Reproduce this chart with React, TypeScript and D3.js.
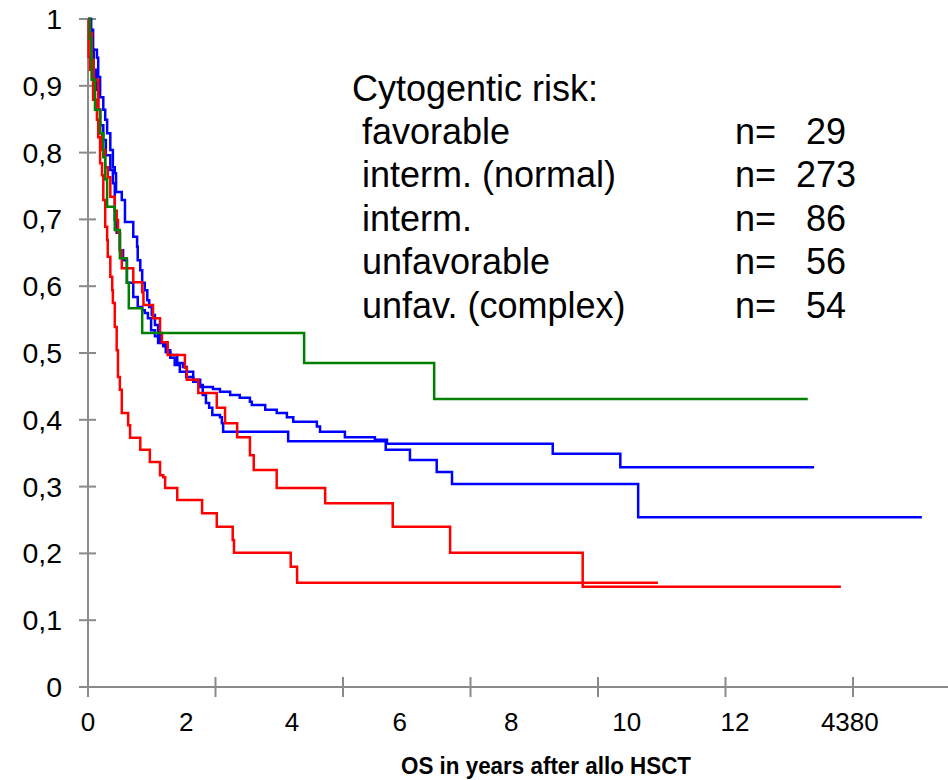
import React from "react";
import * as d3 from "d3";

// Kaplan–Meier overall survival by cytogenetic risk group.
// Each series: [years after allo HSCT, survival probability]; first point is the start,
// last point is the last follow-up (line ends there).
const favorable: [number, number][] = [
  [0, 1], [0.03, 0.97], [0.05, 0.94], [0.06, 0.909], [0.11, 0.864], [0.19, 0.829],
  [0.24, 0.793], [0.27, 0.76], [0.3, 0.719], [0.42, 0.684], [0.5, 0.642], [0.61, 0.605],
  [0.64, 0.567], [0.85, 0.53], [3.39, 0.485], [5.43, 0.431], [11.29, 0.431],
];

const intermNormal: [number, number][] = [
  [0, 1], [0.05, 0.984], [0.08, 0.954], [0.14, 0.942], [0.16, 0.913], [0.19, 0.883],
  [0.24, 0.864], [0.27, 0.849], [0.3, 0.829], [0.35, 0.804], [0.39, 0.778], [0.42, 0.769],
  [0.44, 0.741], [0.53, 0.729], [0.58, 0.696], [0.71, 0.674], [0.77, 0.659], [0.78, 0.639],
  [0.82, 0.624], [0.85, 0.605], [0.89, 0.594], [0.93, 0.579], [0.96, 0.569], [1.0, 0.557],
  [1.05, 0.542], [1.1, 0.527], [1.13, 0.516], [1.21, 0.512], [1.24, 0.504], [1.29, 0.497],
  [1.4, 0.485], [1.49, 0.479], [1.55, 0.472], [1.65, 0.46], [1.76, 0.449], [1.96, 0.446],
  [2.07, 0.442], [2.23, 0.437], [2.38, 0.433], [2.54, 0.427], [2.57, 0.422], [2.78, 0.415],
  [2.96, 0.41], [3.12, 0.404], [3.22, 0.397], [3.59, 0.39], [3.64, 0.382], [4.03, 0.374],
  [4.5, 0.37], [4.69, 0.364], [7.29, 0.349], [8.35, 0.329], [11.39, 0.329],
];

const interm: [number, number][] = [
  [0, 1], [0.03, 0.984], [0.06, 0.954], [0.09, 0.924], [0.13, 0.894], [0.16, 0.864],
  [0.19, 0.841], [0.24, 0.819], [0.28, 0.796], [0.35, 0.774], [0.39, 0.754], [0.42, 0.699],
  [0.45, 0.68], [0.5, 0.654], [0.55, 0.639], [0.61, 0.605], [0.71, 0.584], [0.78, 0.569],
  [0.85, 0.564], [0.89, 0.56], [0.94, 0.552], [0.99, 0.534], [1.05, 0.525], [1.1, 0.515],
  [1.18, 0.51], [1.22, 0.501], [1.29, 0.493], [1.36, 0.482], [1.44, 0.472], [1.54, 0.464],
  [1.65, 0.457], [1.73, 0.452], [1.8, 0.437], [1.85, 0.425], [1.9, 0.418], [1.95, 0.407],
  [2.07, 0.404], [2.1, 0.395], [2.12, 0.382], [3.14, 0.368], [4.67, 0.355], [5.05, 0.34],
  [5.47, 0.322], [5.71, 0.304], [8.63, 0.254], [13.08, 0.254],
];

const unfavorable: [number, number][] = [
  [0, 1], [0.03, 0.979], [0.06, 0.939], [0.09, 0.909], [0.16, 0.864], [0.19, 0.829],
  [0.22, 0.804], [0.27, 0.778], [0.31, 0.763], [0.35, 0.734], [0.42, 0.713], [0.45, 0.699],
  [0.47, 0.68], [0.5, 0.654], [0.53, 0.627], [0.71, 0.606], [0.85, 0.591], [0.87, 0.572],
  [0.94, 0.572], [1.02, 0.552], [1.13, 0.53], [1.16, 0.516], [1.25, 0.497], [1.52, 0.478],
  [1.55, 0.46], [1.73, 0.44], [2.02, 0.418], [2.15, 0.395], [2.34, 0.374], [2.54, 0.347],
  [2.6, 0.325], [2.96, 0.298], [3.72, 0.275], [4.78, 0.24], [5.68, 0.201], [7.76, 0.15],
  [11.81, 0.15],
];

const unfavComplex: [number, number][] = [
  [0, 1], [0.01, 0.943], [0.03, 0.924], [0.06, 0.909], [0.08, 0.879], [0.14, 0.849],
  [0.16, 0.823], [0.19, 0.784], [0.22, 0.766], [0.24, 0.729], [0.27, 0.689], [0.3, 0.669],
  [0.31, 0.644], [0.35, 0.614], [0.38, 0.594], [0.39, 0.575], [0.42, 0.539], [0.45, 0.504],
  [0.47, 0.464], [0.5, 0.445], [0.53, 0.41], [0.63, 0.392], [0.66, 0.373], [0.82, 0.355],
  [0.97, 0.337], [1.13, 0.317], [1.18, 0.314], [1.21, 0.298], [1.4, 0.28], [1.79, 0.26],
  [2.02, 0.24], [2.27, 0.22], [2.29, 0.201], [3.18, 0.18], [3.28, 0.156], [8.94, 0.156],
];

const groupNames = ["favorable", "interm. (normal)", "interm.", "unfavorable", "unfav. (complex)"];
const groupCounts = [29, 273, 86, 56, 54];

const xTicks = [0, 2, 4, 6, 8, 10, 12];
const xTickLabels = ["0", "2", "4", "6", "8", "10", "12", "4380"];
const xTickLabelAt = [0, 1.54, 3.2, 4.89, 6.64, 8.45, 10.15, 11.95];
const yTicks = [0, 0.1, 0.2, 0.3, 0.4, 0.5, 0.6, 0.7, 0.8, 0.9, 1];

const W = 948;
const H = 780;
const left = 88;
const right = 948;
const top = 19;
const bottom = 687;

export default function App() {
  const x = d3.scaleLinear().domain([0, (right - left) / 63.75]).range([left, right]);
  const y = d3.scaleLinear().domain([0, 1]).range([bottom, top]);
  const line = d3
    .line<[number, number]>()
    .x((d) => x(d[0]))
    .y((d) => y(d[1]))
    .curve(d3.curveStepAfter);

  const axisColor = "#8a8a8a";
  const series = [
    { data: intermNormal, color: "#0000ff" },
    { data: interm, color: "#0000ff" },
    { data: unfavorable, color: "#ff0000" },
    { data: unfavComplex, color: "#ff0000" },
    { data: favorable, color: "#008000" },
  ];
  const yFmt = (v: number) => (v === 0 ? "0" : v === 1 ? "1" : v.toFixed(1).replace(".", ","));
  const font = "'Liberation Sans', Arial, sans-serif";

  return (
    <svg
      width={W}
      height={H}
      style={{ position: "absolute", left: 0, top: 0, background: "#fff" }}
      fontFamily={font}
    >
      {/* axes */}
      <line x1={left} x2={left} y1={top} y2={bottom} stroke={axisColor} strokeWidth={2} />
      <line x1={left} x2={right} y1={bottom} y2={bottom} stroke={axisColor} strokeWidth={2} />
      {yTicks.map((t) => (
        <g key={"y" + t}>
          <line x1={left - 9} x2={left + 8} y1={y(t)} y2={y(t)} stroke={axisColor} strokeWidth={2} />
          <text x={62} y={y(t) + 10} fontSize={28.5} textAnchor="end" fill="#000">
            {yFmt(t)}
          </text>
        </g>
      ))}
      {xTicks.map((t) => (
        <line key={"x" + t} x1={x(t)} x2={x(t)} y1={bottom - 10} y2={bottom + 10} stroke={axisColor} strokeWidth={2} />
      ))}
      {xTickLabels.map((lab, i) => (
        <text key={"xl" + i} x={x(xTickLabelAt[i])} y={731} fontSize={26} textAnchor="middle" fill="#000">
          {lab}
        </text>
      ))}
      <text
        x={546}
        y={774}
        fontSize={23}
        fontWeight="bold"
        textAnchor="middle"
        fill="#000"
        textLength={290}
        lengthAdjust="spacingAndGlyphs"
      >
        OS in years after allo HSCT
      </text>

      {/* survival curves */}
      {series.map((s, i) => (
        <path key={i} d={line(s.data) ?? ""} fill="none" stroke={s.color} strokeWidth={2.5} />
      ))}

      {/* legend text */}
      <g fontSize={36} fill="#000" style={{ whiteSpace: "pre" }}>
        <text x={352} y={100.5}>Cytogentic risk:</text>
        {groupNames.map((n, i) => (
          <g key={n}>
            <text x={362} y={143.5 + i * 43.5}>{n}</text>
            <text x={735} y={143.5 + i * 43.5} xmlSpace="preserve">
              {"n=" + String(groupCounts[i]).padStart(5, " ")}
            </text>
          </g>
        ))}
      </g>
    </svg>
  );
}
